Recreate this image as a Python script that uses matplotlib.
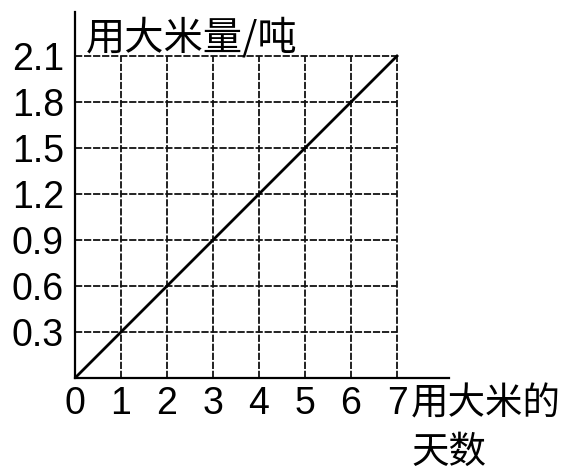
import matplotlib
matplotlib.use("Agg")
import matplotlib.pyplot as plt

plt.rcParams['font.family'] = ['Liberation Sans', 'Noto Sans CJK SC', 'DejaVu Sans']

days = [0, 1, 2, 3, 4, 5, 6, 7]
rice = [0, 0.3, 0.6, 0.9, 1.2, 1.5, 1.8, 2.1]
x_labels = ["0", "1", "2", "3", "4", "5", "6", "7"]
y_ticks = [0.3, 0.6, 0.9, 1.2, 1.5, 1.8, 2.1]
y_labels = ["0.3", "0.6", "0.9", "1.2", "1.5", "1.8", "2.1"]
y_title = "用大米量/吨"
x_title = "用大米的\n天数"

fig = plt.figure(figsize=(5.64, 4.72), dpi=100)
ax = fig.add_axes([75/564, (472-378)/472, (449-75)/564, (378-12)/472])
ax.set_xlim(0, 8.13)
ax.set_ylim(0, 2.387)

grid_kw = dict(color='#111111', linewidth=1.3, linestyle=(0, (4, 1)), zorder=1)
ax.vlines(days[1:], 0, max(rice), **grid_kw)
ax.hlines(y_ticks, 0, max(days), **grid_kw)

ax.plot(days, rice, color='black', linewidth=2.0, zorder=3)

for s in ['top', 'right']:
    ax.spines[s].set_visible(False)
for s in ['left', 'bottom']:
    ax.spines[s].set_linewidth(1.6)
    ax.spines[s].set_color('black')

ax.set_xticks(days)
ax.set_xticklabels(x_labels)
ax.set_yticks(y_ticks)
ax.set_yticklabels(y_labels)
ax.tick_params(axis='both', length=0, labelsize=27, colors='black')
ax.tick_params(axis='x', pad=6)
ax.tick_params(axis='y', pad=8)

cjk = ['Noto Sans CJK SC', 'DejaVu Sans']
fig.text(86/564, 1 - 38/472, y_title, fontsize=28.3, family=cjk, ha='left', va='center')
fig.text(411/564, 1 - 428/472, x_title, fontsize=27, family=cjk, ha='left', va='center',
         linespacing=1.3)

fig.savefig("out.png", dpi=100)
